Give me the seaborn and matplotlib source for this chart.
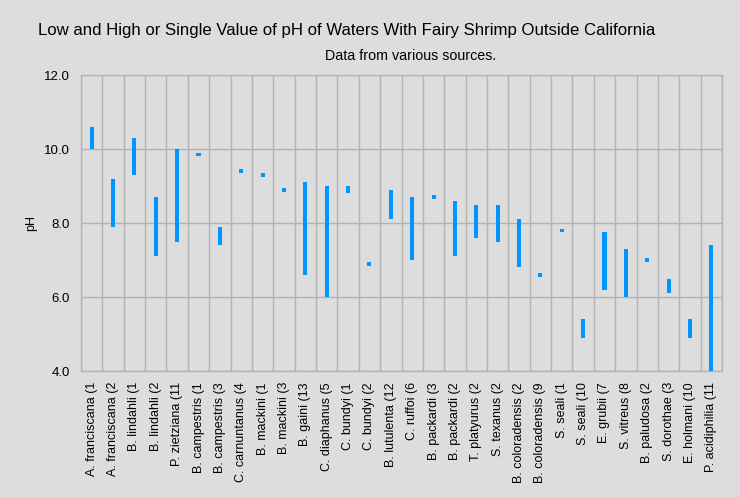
"""Range chart: low/high pH of waters with fairy shrimp outside California."""

import numpy as np
import pandas as pd
import matplotlib.pyplot as plt
import seaborn as sns

species = [
    'A. franciscana (1', 'A. franciscana (2', 'B. lindahli (1', 'B. lindahli (2',
    'P. zietziana (11', 'B. campestris (1', 'B. campestris (3', 'C. carnuntanus (4',
    'B. mackini (1', 'B. mackini (3', 'B. gaini (13', 'C. diaphanus (5',
    'C. bundyi (1', 'C. bundyi (2', 'B. lutulenta (12', 'C. ruffoi (6',
    'B. packardi (3', 'B. packardi (2', 'T. platyurus (2', 'S. texanus (2',
    'B. coloradensis (2', 'B. coloradensis (9', 'S. seali (1', 'S. seali (10',
    'E. grubii (7', 'S. vitreus (8', 'B. paludosa (2', 'S. dorothae (3',
    'E. holmani (10', 'P. acidiphilia (11',
]
ph_low = [10.0, 7.9, 9.3, 7.1, 7.5, 9.8, 7.4, 9.35, 9.25, 8.85, 6.6, 6.0,
          8.8, 6.85, 8.1, 7.0, 8.65, 7.1, 7.6, 7.5, 6.8, 6.55, 7.75, 4.9,
          6.2, 6.0, 6.95, 6.1, 4.9, 4.0]
ph_high = [10.6, 9.2, 10.3, 8.7, 10.0, 9.9, 7.9, 9.45, 9.35, 8.95, 9.1, 9.0,
           9.0, 6.95, 8.9, 8.7, 8.75, 8.6, 8.5, 8.5, 8.1, 6.65, 7.85, 5.4,
           7.75, 7.3, 7.05, 6.5, 5.4, 7.4]

df = pd.DataFrame({'species': species, 'low': ph_low, 'high': ph_high})
df['span'] = df['high'] - df['low']

bg = '#dddddd'
grid = '#b3b3b3'

sns.set_style("white")
plt.rcParams.update({
    'font.family': ['Liberation Sans', 'DejaVu Sans'],
    'figure.facecolor': bg,
    'axes.facecolor': bg,
    'text.color': 'black',
    'xtick.color': 'black',
    'ytick.color': 'black',
    'axes.labelcolor': 'black',
})

fig = plt.figure(figsize=(7.4, 4.97), dpi=100)
ax = fig.add_axes([81 / 740, 1 - 371 / 497, 641 / 740, 296 / 497])

sns.barplot(data=df, x='species', y='span', bottom=df['low'].values,
            color='#0095ff', saturation=1, width=0.19, linewidth=0,
            ax=ax, zorder=3)

ax.set_ylim(4, 12)
ax.set_xlim(-0.5, len(species) - 0.5)
ax.set_yticks([4, 6, 8, 10, 12])
ax.set_yticklabels([f'{v:.1f}' for v in [4, 6, 8, 10, 12]])
ax.set_xticks(np.arange(len(species)))
ax.set_xticklabels(species, rotation=90, fontsize=9)
ax.set_xticks(np.arange(len(species) + 1) - 0.5, minor=True)
ax.tick_params(axis='x', which='major', length=0, pad=8)
ax.tick_params(axis='x', which='minor', length=4, color=grid, width=1)
ax.tick_params(axis='y', length=5, color=grid, width=1, labelsize=9.5, pad=3)
ax.grid(axis='y', which='major', color=grid, lw=1, zorder=0)
ax.grid(axis='x', which='minor', color=grid, lw=1, zorder=0)
ax.set_axisbelow(True)
for s in ax.spines.values():
    s.set_color(grid)
    s.set_linewidth(1)

ax.set_xlabel('')
ax.set_ylabel('pH', fontsize=9, labelpad=5)

fig.text(38 / 740, 1 - 30 / 497,
         'Low and High or Single Value of pH of Waters With Fairy Shrimp Outside California',
         fontsize=12.1, va='center', ha='left')
fig.text(411 / 740, 1 - 56 / 497, 'Data from various sources.',
         fontsize=10.3, va='center', ha='center')

plt.savefig('out.png', dpi=100, facecolor=bg)
plt.close()
